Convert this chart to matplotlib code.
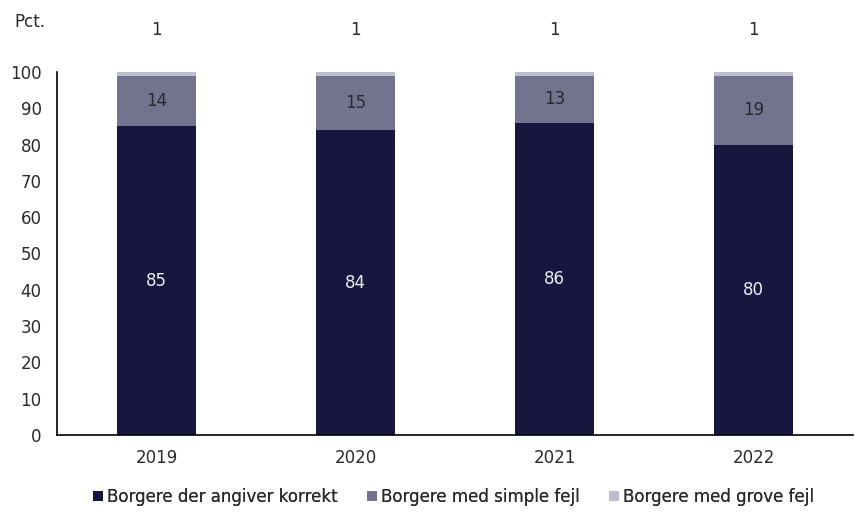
import matplotlib
matplotlib.use("Agg")
import matplotlib.pyplot as plt
from matplotlib.patches import Patch
import numpy as np

plt.rcParams['font.family'] = ['DejaVu Sans']

years = ["2019", "2020", "2021", "2022"]
korrekt = [85, 84, 86, 80]
simple = [14, 15, 13, 19]
grove = [1, 1, 1, 1]
series_names = ["Borgere der angiver korrekt", "Borgere med simple fejl", "Borgere med grove fejl"]
colors = ["#16163E", "#737390", "#BDBDCB"]
yticks = [0, 10, 20, 30, 40, 50, 60, 70, 80, 90, 100]

txt = '#2a2a2a'
fs = 12

fig = plt.figure(figsize=(8.55, 5.12), dpi=100)
ax = fig.add_axes([57/855, 1 - 435/512, 796/855, (435 - 72)/512])

x = np.arange(len(years))
w = 0.4
ax.bar(x, korrekt, w, color=colors[0])
ax.bar(x, simple, w, bottom=korrekt, color=colors[1])
bottom3 = [a + b for a, b in zip(korrekt, simple)]
ax.bar(x, grove, w, bottom=bottom3, color=colors[2])

for i in range(len(years)):
    ax.text(x[i], korrekt[i] / 2, str(korrekt[i]), ha='center', va='center', color='#ECECF2', fontsize=fs)
    ax.text(x[i], korrekt[i] + simple[i] / 2, str(simple[i]), ha='center', va='center', color=txt, fontsize=fs)
    ax.text(x[i], bottom3[i] + grove[i] + 11.5, str(grove[i]), ha='center', va='center', color=txt, fontsize=fs,
            clip_on=False)

ax.set_xlim(-0.5, len(years) - 0.5)
ax.set_ylim(0, 100)
ax.set_yticks(yticks)
ax.set_yticklabels([str(t) for t in yticks], fontsize=fs, color=txt)
ax.set_xticks(x)
ax.set_xticklabels(years, fontsize=fs, color=txt)
ax.tick_params(axis='x', length=0, pad=10)
ax.tick_params(axis='y', length=0, pad=11)
for s in ['top', 'right']:
    ax.spines[s].set_visible(False)
ax.spines['left'].set_color('black')
ax.spines['bottom'].set_color('black')
ax.spines['left'].set_linewidth(1.2)
ax.spines['bottom'].set_linewidth(1.2)

fig.text(14/855, 1 - 22/512, "Pct.", fontsize=fs, color=txt, va='center', ha='left')

# legend entries placed individually
legend_x = [93, 367, 609]
for c, name, lx in zip(colors, series_names, legend_x):
    leg = fig.legend([Patch(facecolor=c, edgecolor='none')], [name], loc='center left',
                     bbox_to_anchor=(lx/855, 1 - 497/512), frameon=False, fontsize=fs,
                     handlelength=0.6, handleheight=0.6, handletextpad=0.25,
                     borderpad=0, borderaxespad=0, labelcolor=txt)
    fig.add_artist(leg)

fig.savefig("out.png", dpi=100)
